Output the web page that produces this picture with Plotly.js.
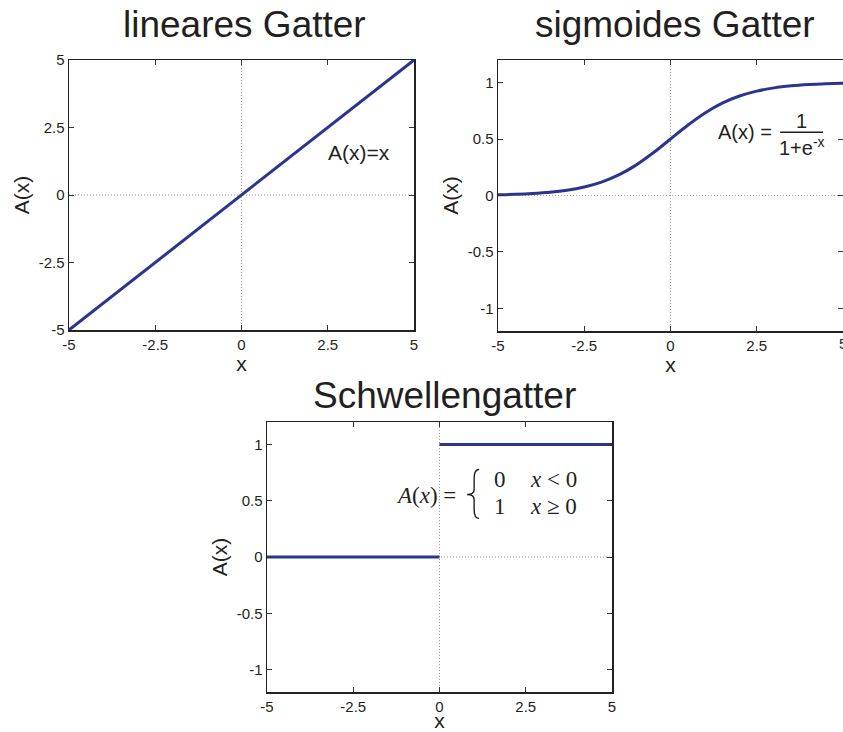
<!DOCTYPE html>
<html>
<head>
<meta charset="utf-8">
<script src="https://cdn.plot.ly/plotly-3.0.1.min.js"></script>
<style>html,body{margin:0;padding:0;background:#fff;}#chart{width:843px;height:732px;}</style>
</head>
<body>
<div id="chart"></div>
<script>
// ---- data ----
var titles = ["lineares Gatter", "sigmoides Gatter", "Schwellengatter"];
var linX = [-5, 5];
var linY = [-5, 5];
var sigX = [-5, -4.5, -4, -3.5, -3, -2.5, -2, -1.5, -1, -0.5, 0, 0.5, 1, 1.5, 2, 2.5, 3, 3.5, 4, 4.5, 5];
var sigY = [0.007, 0.011, 0.018, 0.029, 0.047, 0.076, 0.119, 0.182, 0.269, 0.378, 0.5, 0.622, 0.731, 0.818, 0.881, 0.924, 0.953, 0.971, 0.982, 0.989, 0.993];
var stepX = [-5, 0, null, 0, 5];
var stepY = [0, 0, null, 1, 1];
var xTicks = [-5, -2.5, 0, 2.5, 5];
var xTickText = ["-5", "-2.5", "0", "2.5", "5"];
var linYTicks = [-5, -2.5, 0, 2.5, 5];
var linYTickText = ["-5", "-2.5", "0", "2.5", "5"];
var unitYTicks = [-1, -0.5, 0, 0.5, 1];
var unitYTickText = ["-1", "-0.5", "0", "0.5", "1"];

var lineColor = "#2b3590";
var txt = "#231f20";
var sans = "Liberation Sans, Arial, sans-serif";
var serif = "Liberation Serif, Times New Roman, serif";

function axis(domain, range, tv, tt, anchor, title) {
  return {
    domain: domain, range: range, anchor: anchor,
    tickmode: "array", tickvals: tv, ticktext: tt,
    ticks: "inside", ticklen: 5, tickwidth: 1, tickcolor: "#333",
    showline: true, linecolor: "#222", linewidth: 1.5, mirror: "ticks",
    showgrid: false, zeroline: false,
    tickfont: {family: sans, size: 15, color: txt},
    title: {text: title, font: {family: sans, size: 21, color: txt}, standoff: 3},
    fixedrange: true
  };
}

var traces = [
  {x: linX, y: linY, xaxis: "x", yaxis: "y", mode: "lines", line: {color: lineColor, width: 3}, hoverinfo: "skip"},
  {x: sigX, y: sigY, xaxis: "x2", yaxis: "y2", mode: "lines", line: {color: lineColor, width: 3, shape: "spline"}, hoverinfo: "skip"},
  {x: stepX, y: stepY, xaxis: "x3", yaxis: "y3", mode: "lines", line: {color: lineColor, width: 3}, hoverinfo: "skip", connectgaps: false}
];

function dotted(xr, yr) {
  return [
    {type: "line", xref: xr, yref: yr + " domain", x0: 0, x1: 0, y0: 0, y1: 1, line: {color: "#999", width: 1, dash: "1px,2px"}, layer: "below"},
    {type: "line", xref: xr + " domain", yref: yr, x0: 0, x1: 1, y0: 0, y1: 0, line: {color: "#999", width: 1, dash: "1px,2px"}, layer: "below"}
  ];
}

var shapes = [].concat(dotted("x", "y"), dotted("x2", "y2"), dotted("x3", "y3"));
// fraction bar of the sigmoid formula
shapes.push({type: "line", xref: "x2", yref: "y2", x0: 3.18, x1: 4.42, y0: 0.56, y1: 0.56, line: {color: txt, width: 1.5}});
// curly brace of the step formula
shapes.push({type: "path", xref: "x3", yref: "y3",
  path: "M 1.149,0.778 Q 1.004,0.778 1.004,0.70 L 1.004,0.60 Q 1.004,0.556 0.801,0.556 Q 1.004,0.556 1.004,0.51 L 1.004,0.42 Q 1.004,0.343 1.149,0.343",
  line: {color: txt, width: 1.4}});

var annotations = [
  {text: titles[0], xref: "paper", yref: "paper", x: 244 / 843, y: 1 - 25 / 732, xanchor: "center", yanchor: "middle", showarrow: false, font: {family: sans, size: 37, color: txt}},
  {text: titles[1], xref: "paper", yref: "paper", x: 675 / 843, y: 1 - 25 / 732, xanchor: "center", yanchor: "middle", showarrow: false, font: {family: sans, size: 37, color: txt}},
  {text: titles[2], xref: "paper", yref: "paper", x: 445 / 843, y: 1 - 395 / 732, xanchor: "center", yanchor: "middle", showarrow: false, font: {family: sans, size: 37, color: txt}},
  {text: "5", xref: "x2", yref: "paper", x: 5, y: 1 - 343 / 732, xanchor: "center", yanchor: "middle", showarrow: false, font: {family: sans, size: 15, color: txt}},
  {text: "A(x)=x", xref: "x", yref: "y", x: 3.41, y: 1.59, showarrow: false, font: {family: sans, size: 21, color: txt}},
  {text: "A(x) =", xref: "x2", yref: "y2", x: 2.17, y: 0.56, showarrow: false, font: {family: sans, size: 20, color: txt}},
  {text: "1", xref: "x2", yref: "y2", x: 3.8, y: 0.66, showarrow: false, font: {family: sans, size: 20, color: txt}},
  {text: "1+e<sup>-x</sup>", xref: "x2", yref: "y2", x: 3.8, y: 0.43, showarrow: false, font: {family: sans, size: 20, color: txt}},
  {text: "<i>A</i>(<i>x</i>) =", xref: "x3", yref: "y3", x: -0.39, y: 0.55, showarrow: false, font: {family: serif, size: 23, color: txt}},
  {text: "0", xref: "x3", yref: "y3", x: 1.76, y: 0.69, showarrow: false, font: {family: serif, size: 23, color: txt}},
  {text: "<i>x</i> &lt; 0", xref: "x3", yref: "y3", x: 3.29, y: 0.69, showarrow: false, font: {family: serif, size: 23, color: txt}},
  {text: "1", xref: "x3", yref: "y3", x: 1.76, y: 0.45, showarrow: false, font: {family: serif, size: 23, color: txt}},
  {text: "<i>x</i> ≥ 0", xref: "x3", yref: "y3", x: 3.29, y: 0.45, showarrow: false, font: {family: serif, size: 23, color: txt}}
];

var layout = {
  width: 843, height: 732,
  margin: {l: 0, r: 0, t: 0, b: 0},
  paper_bgcolor: "#fff", plot_bgcolor: "#fff",
  showlegend: false,
  xaxis: axis([69 / 843, 414 / 843], [-5, 5], xTicks, xTickText, "y", "x"),
  yaxis: axis([1 - 330 / 732, 1 - 60 / 732], [-5, 5], linYTicks, linYTickText, "x", "A(x)"),
  xaxis2: axis([498 / 843, 1], [-5, 5], xTicks, xTickText, "y2", "x"),
  yaxis2: axis([1 - 331 / 732, 1 - 60 / 732], [-1.2, 1.2], unitYTicks, unitYTickText, "x2", "A(x)"),
  xaxis3: axis([267 / 843, 612 / 843], [-5, 5], xTicks, xTickText, "y3", "x"),
  yaxis3: axis([1 - 692 / 732, 1 - 422 / 732], [-1.2, 1.2], unitYTicks, unitYTickText, "x3", "A(x)"),
  shapes: shapes,
  annotations: annotations
};

Plotly.newPlot("chart", traces, layout, {displayModeBar: false, staticPlot: true});
</script>
</body>
</html>
